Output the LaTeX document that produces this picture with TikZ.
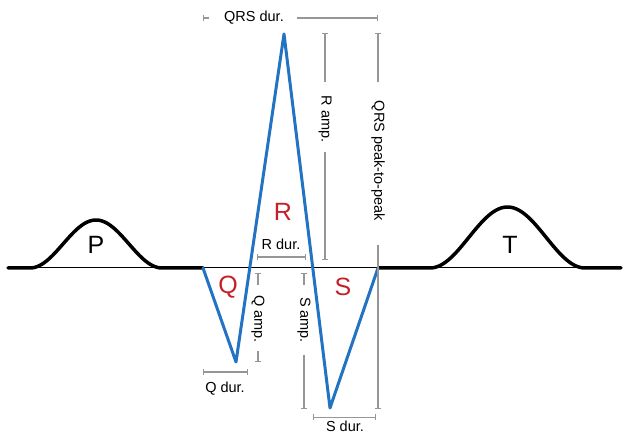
\documentclass[tikz,border=0pt]{standalone}
\usepackage{fontspec}
\setmainfont{Liberation Sans}
\usetikzlibrary{arrows.meta}
\definecolor{ecgblue}{RGB}{35,115,195}
\definecolor{ecgred}{RGB}{200,30,40}
\definecolor{dimgray}{RGB}{150,150,150}
\begin{document}
\begin{tikzpicture}[x=1pt,y=-1pt,
 wave/.style={line width=3.5pt, black, line cap=round, line join=round},
 qrs/.style={line width=3pt, ecgblue, line join=round, line cap=round},
 dimline/.style={line width=1.1pt, dimgray},
 barboth/.style={dimline, {Bar[width=6pt]}-{Bar[width=6pt]}},
 barstart/.style={dimline, {Bar[width=6pt]}-},
 barend/.style={dimline, -{Bar[width=6pt]}},
 lbl/.style={font=\fontsize{14.5}{14.5}\selectfont, text=black, inner sep=0pt},
 big/.style={font=\fontsize{25}{25}\selectfont, inner sep=0pt},
]
\useasboundingbox (0,0) rectangle (625,435);

% baseline
\draw[line width=1pt] (8,268) -- (620,268);

% P wave and T wave with thick baseline
\draw[wave] (8,268) -- (30,268)
  plot[domain=0:1, samples=60, smooth] ({30+132*\x},{268-48*(1-cos(360*\x))/2})
  -- (203,268);
\draw[wave] (378,268) -- (430,268)
  plot[domain=0:1, samples=60, smooth] ({430+155*\x},{268-61*(1-cos(360*\x))/2})
  -- (621,268);

% QRS complex
\coordinate (q0) at (203,268);
\coordinate (q1) at (236,362);
\coordinate (r1) at (284,34);
\coordinate (s1) at (330,408);
\coordinate (s2) at (378,268);
\draw[qrs] (q0) -- (q1) -- (r1) -- (s1) -- (s2);

% wave letters
\node[big] (P) at (96,245) {P};
\node[big] (T) at (510,245) {T};
\node[big, text=ecgred] (Q) at (228,287) {Q};
\node[big, text=ecgred] (R) at (283,212) {R};
\node[big, text=ecgred] (S) at (343,287) {S};

% QRS duration
\draw[barstart] (203,18) -- (209,18);
\node[lbl] (qrsdur) at (254,18) {QRS dur.};
\draw[barend] (297,18) -- (378,18);

% R amplitude
\draw[barstart] (325,33) -- (325,82);
\node[lbl, rotate=-90] (ramp) at (325,119) {R amp.};
\draw[barend] (325,152) -- (325,260);

% QRS peak-to-peak
\draw[barstart] (378,33) -- (378,82);
\node[lbl, rotate=-90] (p2p) at (378,161) {QRS peak-to-peak};
\draw[barend] (378,245) -- (378,409);

% R duration
\draw[barboth] (257,257) -- (306,257);
\node[lbl] (rdur) at (281,244) {R dur.};

% Q amplitude
\draw[barstart] (258,273) -- (258,285);
\node[lbl, rotate=-90] (qamp) at (258,319) {Q amp.};
\draw[barend] (258,351) -- (258,362);

% S amplitude
\draw[barstart] (304,273) -- (304,285);
\node[lbl, rotate=-90] (samp) at (304,320) {S amp.};
\draw[barend] (304,355) -- (304,409);

% Q duration
\draw[barboth] (203,372) -- (248,372);
\node[lbl] (qdur) at (225,389) {Q dur.};

% S duration
\draw[barboth] (313,417.5) -- (376,417.5);
\node[lbl, anchor=north] (sdur) at (345,420.5) {S dur.};
\end{tikzpicture}
\end{document}
